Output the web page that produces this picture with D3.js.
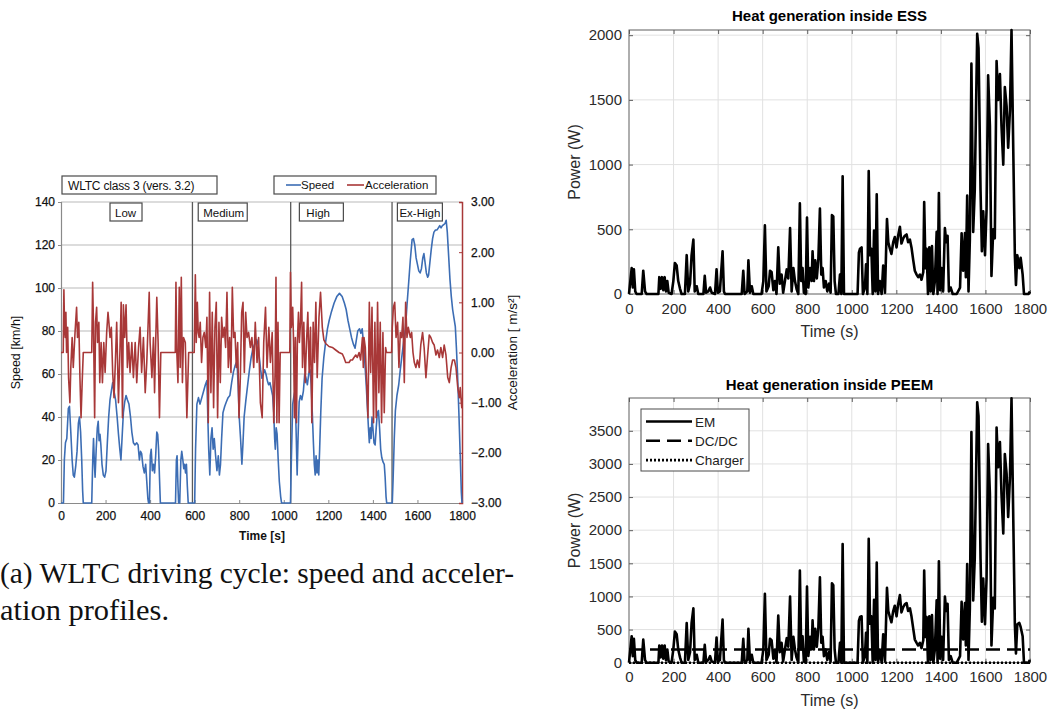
<!DOCTYPE html>
<html>
<head>
<meta charset="utf-8">
<script src="https://cdn.jsdelivr.net/npm/d3@7"></script>
<style>
  html, body { margin: 0; padding: 0; background: #fff; }
  svg { display: block; }
</style>
</head>
<body>
<svg id="fig" width="1048" height="711"></svg>
<script>
// ---------------------------------------------------------------
// WLTC class 3 driving cycle: [time s, speed km/h]
const speedPoints = [
  [0,0],[11,0],[15,20],[20,28],[26,30],[33,44],[38,45],[44,33],[50,20],[55,13],[60,12],[66,17],[72,24],[78,37],[83,40],[88,33],[93,20],[97,6],[100,0],
  [138,0],[143,22],[146,30],[150,18],[153,12],[158,25],[163,35],[167,38],[171,29],[175,32],[179,27],[184,18],[190,13],[196,12],[202,15],[208,28],[214,40],[220,48],[226,52],[232,56],[238,52],[245,48],[252,40],[258,32],[264,25],[269,20],[274,30],[280,42],[286,47],[292,50],[298,48],[305,46],[312,40],[318,33],[325,28],[332,27],[340,28],[346,27],[352,20],[357,24],[362,23],[368,17],[374,14],[380,18],[385,10],[390,2],[393,0],
  [397,0],[401,22],[405,25],[410,15],[415,18],[420,14],[425,22],[430,33],[434,32],[438,25],[442,12],[446,0],
  [514,0],[518,20],[521,22],[525,8],[528,0],[533,0],[538,20],[542,24],[547,20],[551,16],[555,18],[559,14],[563,18],[567,8],[571,0],
  [600,0],[604,25],[610,46],[617,49],[624,46],[632,49],[640,52],[648,55],[655,57],[659,40],[663,25],[668,13],[673,30],[678,35],[683,25],[688,30],[694,22],[700,15],[706,22],[711,13],[716,18],[721,30],[727,42],[735,45],[742,47],[750,49],[758,50],[766,56],[774,61],[782,64],[790,66],[795,55],[800,40],[806,30],[812,18],[817,28],[822,40],[830,48],[838,55],[846,62],[854,68],[862,72],[870,74],[878,76],[884,74],[890,68],[896,62],[902,58],[908,60],[914,62],[920,60],[926,57],[932,55],[938,56],[944,53],[950,50],[955,42],[959,30],[962,25],[966,35],[970,32],[975,20],[980,10],[986,3],[990,0],
  [1030,0],[1034,20],[1040,46],[1046,50],[1050,52],[1055,35],[1060,13],[1064,30],[1069,47],[1075,50],[1081,48],[1088,52],[1094,60],[1100,58],[1106,55],[1112,60],[1118,62],[1123,55],[1128,42],[1133,28],[1137,18],[1141,13],[1145,22],[1149,14],[1153,20],[1157,13],[1161,25],[1166,42],[1172,58],[1180,68],[1188,75],[1196,81],[1204,85],[1214,89],[1226,93],[1238,96],[1250,97.5],[1262,96],[1272,93],[1280,90],[1288,85],[1296,81],[1304,77],[1312,74],[1320,72],[1326,76],[1332,80],[1340,81],[1346,79],[1352,81],[1358,74],[1364,65],[1370,55],[1375,45],[1380,35],[1384,28],[1388,35],[1392,30],[1396,40],[1400,35],[1405,28],[1410,27],[1415,35],[1420,42],[1425,43],[1430,35],[1435,25],[1440,21],[1446,19],[1451,18],[1455,12],[1459,3],[1462,0],
  [1487,0],[1491,12],[1496,30],[1501,43],[1508,50],[1516,55],[1523,62],[1531,69],[1538,75],[1546,81],[1553,92],[1561,103],[1568,113],[1576,122.5],[1582,123],[1588,120],[1594,114],[1600,111],[1606,108],[1612,107],[1618,109],[1624,114],[1629,116],[1634,112],[1640,107],[1646,105],[1650,106],[1656,112],[1662,118],[1668,123],[1674,126],[1681,127],[1688,127],[1694,128],[1700,129],[1706,128],[1712,129],[1718,129.5],[1724,130],[1729,131.5],[1734,126],[1740,115],[1746,104],[1752,96],[1758,90],[1764,86],[1770,82],[1775,72],[1780,60],[1786,42],[1792,22],[1797,5],[1800,0]
];

// WLTC class 3 acceleration: [time s, acceleration m/s²]
const accelPoints = [
  [0,0],[10,0],[13,1.25],[16,0.5],[19,0.3],[22,0.8],[25,0],[30,0.5],[34,-0.5],[40,-1.0],[44,-0.3],[50,0.3],[55,-0.3],[63,0.4],[70,0.9],[74,0.3],[80,0.6],[85,-0.5],[90,-1.3],[95,-0.6],[100,0],
  [138,0],[142,1.4],[146,0.5],[151,-1.3],[155,0.6],[160,0.9],[164,0.2],[170,0.6],[174,-0.6],[180,0.2],[186,-0.6],[192,0.2],[198,-0.4],[205,0.4],[211,0.8],[215,0.6],[220,0.3],[226,0.5],[232,-0.4],[238,-0.9],[244,-0.2],[250,0.6],[258,-1.0],[265,0.1],[270,1.0],[276,-1.3],[280,0.95],[286,0.3],[292,0.95],[298,-0.3],[304,0.2],[310,-0.4],[318,0.2],[325,-0.5],[333,0.2],[340,-0.6],[348,0.1],[355,0.5],[362,-0.4],[370,0.3],[378,-0.8],[385,-0.2],[396,1.2],[400,0.2],[408,-0.5],[415,0.3],[420,-0.8],[425,0.2],[430,1.1],[436,0.2],[442,-1.3],[448,0],
  [513,0],[516,1.4],[520,0],[525,-0.6],[531,1.3],[535,-0.3],[540,1.5],[545,-0.6],[550,0.3],[558,0.2],[565,-1.3],[573,0],
  [598,0],[603,1.55],[607,0.2],[612,1.0],[616,0.4],[620,0.3],[625,0.6],[631,-0.2],[637,0.3],[643,0.4],[650,0.1],[655,0.7],[661,-1.4],[667,1.2],[673,-0.8],[679,0.8],[685,-1.1],[691,0.5],[697,1.0],[703,-1.3],[709,0.6],[715,-0.6],[721,0.7],[727,0.3],[733,0.5],[739,0.1],[745,1.2],[751,-0.3],[757,0.3],[763,-0.4],[769,1.3],[775,0.3],[781,0.4],[787,-0.3],[793,0.2],[799,-1.3],[805,-0.5],[811,0.8],[817,1.0],[823,-0.4],[829,0.8],[835,0.3],[842,0.4],[850,0.1],[857,0.3],[865,-0.3],[872,0.6],[880,-0.2],[887,0.3],[895,-1.0],[903,-1.3],[910,0.2],[918,0.9],[925,-0.3],[933,0.5],[940,-0.2],[948,0.4],[955,-1.4],[961,-0.4],[965,1.5],[969,-1.4],[974,0.6],[979,-1.4],[984,0],
  [1027,0],[1030,1.6],[1034,0.5],[1040,0.9],[1044,0.2],[1048,-1.3],[1052,0.3],[1057,-1.4],[1061,0.2],[1066,0.8],[1070,0.2],[1075,0.6],[1080,1.4],[1084,-0.3],[1090,0.6],[1096,-0.6],[1102,0.2],[1108,0.8],[1114,-0.4],[1120,0.5],[1126,-1.4],[1132,0.6],[1138,-0.2],[1144,1.0],[1150,-0.5],[1158,0.7],[1165,1.2],[1173,0.5],[1180,0.25],[1188,0.18],[1203,0.12],[1218,0.1],[1233,0.05],[1248,0.0],[1263,-0.03],[1270,-0.1],[1278,-0.2],[1293,-0.2],[1300,-0.15],[1308,-0.15],[1315,-0.1],[1323,-0.05],[1330,-0.1],[1338,0.0],[1345,-0.15],[1353,0.3],[1357,-0.3],[1360,0.3],[1366,0.1],[1371,-0.5],[1378,-1.3],[1384,1.0],[1390,-0.4],[1396,0.9],[1403,-1.4],[1409,0.6],[1415,-1.3],[1421,1.0],[1427,-0.8],[1433,0.6],[1439,-1.4],[1445,0.4],[1451,-1.2],[1457,0.1],[1461,0],
  [1484,0],[1487,0.5],[1492,0.9],[1498,1.0],[1504,0.3],[1511,0.6],[1517,-0.3],[1523,0.4],[1529,0.3],[1535,0.7],[1541,-0.6],[1547,1.0],[1553,0.3],[1559,0.5],[1568,0.3],[1574,0.4],[1580,0.0],[1586,-0.2],[1593,-0.3],[1600,-0.15],[1608,-0.3],[1615,0.15],[1623,0.4],[1630,0.1],[1638,-0.5],[1645,-0.1],[1653,0.35],[1660,0.3],[1668,0.2],[1675,0.15],[1683,-0.05],[1690,0.05],[1698,-0.1],[1705,0.1],[1713,-0.1],[1720,0.15],[1728,-0.05],[1736,-0.5],[1743,-0.6],[1751,-0.3],[1758,-0.15],[1766,-0.15],[1773,-0.3],[1781,-0.7],[1788,-0.9],[1792,-0.7],[1799,-1.1],[1800,-0.9]
];

const phaseNames  = ["Low", "Medium", "High", "Ex-High"];
const phaseBounds = [590, 1031, 1486];           // s, phase dividers
const speedTicks  = [0, 20, 40, 60, 80, 100, 120, 140];
const accelTicks  = [-3, -2, -1, 0, 1, 2, 3];
const cycleTimeTicks = [0, 200, 400, 600, 800, 1000, 1200, 1400, 1600, 1800];

// Heat generation inside the ESS: [time s, power W]
const essPoints = [
  [0,0],[12,200],[17,50],[22,190],[28,20],[34,0],[57,0],[64,180],[72,20],[79,0],[132,0],[136,130],[142,40],[148,130],[154,30],[160,130],[166,20],[172,100],[178,10],[191,0],[199,100],[206,240],[214,220],[221,100],[229,40],[236,0],[251,0],[259,300],[266,20],[274,80],[281,300],[289,420],[295,20],[304,60],[311,0],[334,0],[340,140],[346,10],[356,20],[364,50],[371,10],[386,0],[393,190],[399,10],[408,20],[420,330],[426,20],[431,0],
  [506,0],[513,180],[519,0],[531,20],[536,260],[543,10],[551,60],[558,0],[595,0],[603,100],[610,530],[617,20],[627,60],[633,180],[640,170],[648,30],[655,100],[662,0],[670,360],[677,80],[685,150],[692,10],[700,100],[708,190],[715,120],[723,510],[730,20],[738,200],[745,100],[752,40],[760,0],[767,700],[773,100],[779,200],[785,10],[793,0],[799,590],[805,50],[813,200],[820,100],[824,330],[830,100],[836,260],[843,120],[850,270],[857,660],[863,150],[869,200],[875,50],[883,100],[890,20],[898,80],[905,10],[911,610],[917,600],[923,100],[929,0],[940,0],[947,150],[953,0],[959,910],[965,0],
  [1026,0],[1032,320],[1037,350],[1044,360],[1050,0],[1059,50],[1064,230],[1070,0],[1076,950],[1082,300],[1088,350],[1094,0],[1100,490],[1106,20],[1112,770],[1118,0],[1126,100],[1134,0],[1141,220],[1149,10],[1158,580],[1164,400],[1171,350],[1178,310],[1186,400],[1193,440],[1201,360],[1208,450],[1216,520],[1223,390],[1231,430],[1238,450],[1246,460],[1253,400],[1261,420],[1268,360],[1276,260],[1283,180],[1291,150],[1298,130],[1306,150],[1313,110],[1321,170],[1325,710],[1331,200],[1336,350],[1342,0],[1348,360],[1354,20],[1360,370],[1366,0],[1373,100],[1381,480],[1385,0],[1391,780],[1397,30],[1403,200],[1410,20],[1418,510],[1424,400],[1430,450],[1436,20],[1444,50],[1453,0],
  [1471,0],[1486,50],[1493,470],[1500,180],[1508,470],[1512,130],[1518,760],[1524,20],[1530,420],[1537,1780],[1545,480],[1552,800],[1563,2010],[1569,1900],[1578,800],[1584,330],[1590,640],[1598,300],[1605,650],[1612,1690],[1620,1300],[1627,140],[1635,500],[1642,430],[1650,1800],[1657,1500],[1665,1700],[1672,1300],[1680,1000],[1687,1600],[1695,1450],[1702,1130],[1710,1420],[1717,2040],[1725,1100],[1732,300],[1737,70],[1743,300],[1752,200],[1758,280],[1767,150],[1773,0],[1792,0],[1800,20]
];

// Heat generation inside the PEEM, electric machine: [time s, power W]
const emPoints = [
  [0,0],[12,400],[17,100],[22,360],[28,40],[34,0],[57,0],[64,350],[72,40],[79,0],[132,0],[136,260],[142,80],[148,260],[154,60],[160,260],[166,40],[172,200],[178,20],[191,0],[199,200],[206,470],[214,430],[221,200],[229,80],[236,0],[251,0],[259,600],[266,40],[274,160],[281,600],[289,820],[295,40],[304,120],[311,0],[334,0],[340,270],[346,20],[356,40],[364,100],[371,20],[386,0],[393,380],[399,20],[408,40],[420,650],[426,40],[431,0],
  [506,0],[513,360],[519,0],[531,40],[536,510],[543,20],[551,120],[558,0],[595,0],[603,200],[610,1040],[617,40],[627,120],[633,360],[640,340],[648,60],[655,200],[662,0],[670,710],[677,160],[685,300],[692,20],[700,200],[708,370],[715,240],[723,1000],[730,40],[738,390],[745,200],[752,80],[760,0],[767,1390],[773,200],[779,400],[785,20],[793,0],[799,1150],[805,100],[813,390],[820,200],[824,640],[830,200],[836,510],[843,240],[850,530],[857,1290],[863,300],[869,390],[875,100],[883,200],[890,40],[898,160],[905,20],[911,1200],[917,1170],[923,200],[929,0],[940,0],[947,300],[953,0],[959,1790],[965,0],
  [1026,0],[1032,630],[1037,690],[1044,700],[1050,0],[1059,100],[1064,450],[1070,0],[1076,1870],[1082,590],[1088,700],[1094,0],[1100,950],[1106,40],[1112,1510],[1118,0],[1126,200],[1134,0],[1141,430],[1149,20],[1158,1130],[1164,780],[1171,690],[1178,610],[1186,780],[1193,860],[1201,700],[1208,880],[1216,1020],[1223,760],[1231,840],[1238,880],[1246,900],[1253,780],[1261,820],[1268,700],[1276,510],[1283,350],[1291,300],[1298,260],[1306,300],[1313,220],[1321,340],[1325,1390],[1331,390],[1336,690],[1342,0],[1348,700],[1354,40],[1360,720],[1366,0],[1373,200],[1381,940],[1385,0],[1391,1530],[1397,60],[1403,390],[1410,40],[1418,1000],[1424,780],[1430,890],[1436,40],[1444,100],[1453,0],
  [1471,0],[1486,100],[1493,920],[1500,350],[1508,900],[1512,260],[1518,1490],[1524,40],[1530,820],[1537,3480],[1545,940],[1552,1570],[1563,3930],[1569,3720],[1578,1570],[1584,620],[1590,1270],[1598,580],[1605,1270],[1612,3300],[1620,2550],[1627,260],[1635,980],[1642,820],[1650,3550],[1657,2950],[1665,3330],[1672,2550],[1680,1950],[1687,3150],[1695,2850],[1702,2200],[1710,2800],[1717,3990],[1725,2150],[1732,580],[1737,140],[1743,580],[1752,600],[1758,540],[1767,400],[1773,0],[1792,0],[1800,40]
];

// DC/DC converter and on-board charger losses: [time s, power W]
const dcdcPoints    = [[0,200],[1800,200]];
const chargerPoints = [[0,0],[1800,0]];

const timeTicks = [0, 200, 400, 600, 800, 1000, 1200, 1400, 1600, 1800];
const essTicks  = [0, 500, 1000, 1500, 2000];
const peemTicks = [0, 500, 1000, 1500, 2000, 2500, 3000, 3500];
const peemLegend = ["EM", "DC/DC", "Charger"];

// ---------------------------------------------------------------
const svg = d3.select("#fig");
const SANS = "'Liberation Sans', Arial, Helvetica, sans-serif";
const SERIF = "'Liberation Serif', 'Times New Roman', serif";

// ================= Left panel: WLTC speed / acceleration =================
(function drawCycle() {
  const BLUE = "#3c6db4", RED = "#a83838";
  const x  = d3.scaleLinear().domain([0, 1800]).range([61, 462]);
  const yV = d3.scaleLinear().domain([0, 140]).range([503, 202]);
  const yA = d3.scaleLinear().domain([-3, 3]).range([503, 202]);
  const g = svg.append("g").attr("font-family", SANS);

  // horizontal gridlines on the speed ticks
  g.append("g").selectAll("line")
    .data(speedTicks.filter(d => d > 0)).join("line")
    .attr("x1", x(0)).attr("x2", x(1800))
    .attr("y1", d => yV(d)).attr("y2", d => yV(d))
    .attr("stroke", "#b9b9b9").attr("stroke-width", 1.2);

  // phase dividers
  g.append("g").selectAll("line")
    .data(phaseBounds).join("line")
    .attr("x1", d => x(d)).attr("x2", d => x(d))
    .attr("y1", yV(140)).attr("y2", yV(0))
    .attr("stroke", "#5a5a5a").attr("stroke-width", 1.3);

  const labelStyle = sel => sel.attr("font-size", 12).attr("fill", "#111")
    .attr("font-family", SANS).attr("stroke", "#111").attr("stroke-width", 0.25);

  // left speed axis
  const axL = g.append("g").attr("transform", `translate(${x(0)},0)`)
    .call(d3.axisLeft(yV).tickValues(speedTicks).tickSize(3).tickPadding(3).tickFormat(d3.format("d")));
  axL.select(".domain").attr("stroke", "#8a8a8a").attr("stroke-width", 1.2);
  axL.selectAll(".tick line").attr("stroke", "#8a8a8a");
  axL.selectAll("text").call(labelStyle);

  // bottom time axis
  const axB = g.append("g").attr("transform", `translate(0,${yV(0)})`)
    .call(d3.axisBottom(x).tickValues(cycleTimeTicks).tickSize(-3).tickPadding(8).tickFormat(d3.format("d")));
  axB.select(".domain").attr("stroke", "#8a8a8a").attr("stroke-width", 1.2);
  axB.selectAll(".tick line").attr("stroke", "#8a8a8a");
  axB.selectAll("text").call(labelStyle);

  // right acceleration axis
  const axR = g.append("g").attr("transform", `translate(${x(1800)},0)`)
    .call(d3.axisRight(yA).tickValues(accelTicks).tickSize(-3).tickPadding(9).tickFormat(d3.format(".2f")));
  axR.select(".domain").attr("stroke", RED).attr("stroke-width", 1.5);
  axR.selectAll(".tick line").attr("stroke", RED);
  axR.selectAll("text").call(labelStyle);

  // curves
  const lineV = d3.line().x(d => x(d[0])).y(d => yV(d[1]));
  const lineA = d3.line().x(d => x(d[0])).y(d => yA(d[1]));
  g.append("path").datum(speedPoints).attr("d", lineV)
    .attr("fill", "none").attr("stroke", BLUE).attr("stroke-width", 1.6)
    .attr("stroke-linejoin", "round");
  g.append("path").datum(accelPoints).attr("d", lineA)
    .attr("fill", "none").attr("stroke", RED).attr("stroke-width", 1.6)
    .attr("stroke-linejoin", "round");

  // phase name boxes
  const phaseBoxLeft = [220, 616, 1070, 1510];   // s
  const phaseBoxW    = [32, 49, 44, 45];
  const phasePad     = [5, 5, 7, 2];
  phaseNames.forEach((name, i) => {
    const bx = x(phaseBoxLeft[i]);
    g.append("rect").attr("x", bx).attr("y", 203).attr("width", phaseBoxW[i]).attr("height", 18)
      .attr("fill", "#fff").attr("stroke", "#4a4a4a").attr("stroke-width", 1.2);
    g.append("text").attr("x", bx + phasePad[i]).attr("y", 216.5)
      .attr("font-size", 11.5).attr("fill", "#111").text(name);
  });

  // cycle name box
  g.append("rect").attr("x", 62).attr("y", 176).attr("width", 155).attr("height", 18)
    .attr("fill", "#fff").attr("stroke", "#4a4a4a").attr("stroke-width", 1.2);
  g.append("text").attr("x", 68).attr("y", 189.5).attr("font-size", 12).attr("fill", "#111")
    .attr("letter-spacing", -0.2).text("WLTC class 3 (vers. 3.2)");

  // legend
  g.append("rect").attr("x", 274).attr("y", 176).attr("width", 162).attr("height", 18)
    .attr("fill", "#fff").attr("stroke", "#4a4a4a").attr("stroke-width", 1.2);
  g.append("line").attr("x1", 286).attr("x2", 301).attr("y1", 185).attr("y2", 185)
    .attr("stroke", BLUE).attr("stroke-width", 1.6);
  g.append("text").attr("x", 301).attr("y", 189).attr("font-size", 11.5).attr("fill", "#111").text("Speed");
  g.append("line").attr("x1", 347).attr("x2", 364).attr("y1", 185).attr("y2", 185)
    .attr("stroke", RED).attr("stroke-width", 1.6);
  g.append("text").attr("x", 365).attr("y", 189).attr("font-size", 11.5).attr("fill", "#111").text("Acceleration");

  // axis titles
  g.append("text").attr("transform", `translate(20,${(yV(0) + yV(140)) / 2}) rotate(-90)`)
    .attr("text-anchor", "middle").attr("font-size", 12.5).attr("fill", "#111").text("Speed [km/h]");
  g.append("text").attr("transform", `translate(517,${(yV(0) + yV(140)) / 2}) rotate(-90)`)
    .attr("text-anchor", "middle").attr("font-size", 13.5).attr("fill", "#111").text("Acceleration [ m/s²]");
  g.append("text").attr("x", 262).attr("y", 540).attr("text-anchor", "middle")
    .attr("font-size", 12).attr("font-weight", "bold").attr("fill", "#111").text("Time [s]");
})();

// caption
const cap = svg.append("g").attr("font-family", SERIF).attr("font-size", 28.5).attr("fill", "#111");
cap.append("text").attr("x", 0).attr("y", 583).attr("textLength", 514).attr("lengthAdjust", "spacingAndGlyphs")
  .text("(a) WLTC driving cycle: speed and acceler-");
cap.append("text").attr("x", 0).attr("y", 620).attr("textLength", 169).attr("lengthAdjust", "spacingAndGlyphs")
  .text("ation profiles.");

// ================= Right panels: MATLAB-style heat plots =================
function matlabAxes(cfg) {
  const x = d3.scaleLinear().domain([0, 1800]).range([629, 1030]);
  const y = d3.scaleLinear().domain([0, cfg.yMax]).range([cfg.bottom, cfg.top]);
  const g = svg.append("g").attr("font-family", SANS);
  const AX = "#5e5e5e";

  // grid
  g.append("g").selectAll("line").data(timeTicks.slice(1, -1)).join("line")
    .attr("x1", d => x(d)).attr("x2", d => x(d)).attr("y1", cfg.top).attr("y2", cfg.bottom)
    .attr("stroke", "#e1e1e1").attr("stroke-width", 1);
  g.append("g").selectAll("line").data(cfg.yTicks.filter(d => d > 0 && y(d) > cfg.top + 1)).join("line")
    .attr("x1", x(0)).attr("x2", x(1800)).attr("y1", d => y(d)).attr("y2", d => y(d))
    .attr("stroke", "#e1e1e1").attr("stroke-width", 1);

  // axes with inward ticks
  const axB = g.append("g").attr("transform", `translate(0,${cfg.bottom})`)
    .call(d3.axisBottom(x).tickValues(timeTicks).tickSize(-4).tickPadding(9).tickFormat(d3.format("d")));
  const axT = g.append("g").attr("transform", `translate(0,${cfg.top})`)
    .call(d3.axisTop(x).tickValues(timeTicks).tickSize(-4).tickFormat(""));
  const axL = g.append("g").attr("transform", `translate(${x(0)},0)`)
    .call(d3.axisLeft(y).tickValues(cfg.yTicks).tickSize(-4).tickPadding(7).tickFormat(d3.format("d")));
  const axR = g.append("g").attr("transform", `translate(${x(1800)},0)`)
    .call(d3.axisRight(y).tickValues(cfg.yTicks).tickSize(-4).tickFormat(""));
  [axB, axT, axL, axR].forEach(a => {
    a.select(".domain").remove();
    a.selectAll(".tick line").attr("stroke", AX);
    a.selectAll("text").attr("font-size", 15).attr("fill", "#2b2b2b").attr("font-family", SANS);
  });
  g.append("rect").attr("x", x(0)).attr("y", cfg.top).attr("width", x(1800) - x(0))
    .attr("height", cfg.bottom - cfg.top).attr("fill", "none").attr("stroke", AX).attr("stroke-width", 1);

  // series
  const line = d3.line().x(d => x(d[0])).y(d => y(d[1]));
  cfg.series.forEach(s => {
    g.append("path").datum(s.data).attr("d", line).attr("fill", "none")
      .attr("stroke", "#000").attr("stroke-width", s.width)
      .attr("stroke-dasharray", s.dash || null)
      .attr("stroke-linejoin", "round");
  });

  // labels
  g.append("text").attr("x", (x(0) + x(1800)) / 2).attr("y", cfg.titleY).attr("text-anchor", "middle")
    .attr("font-size", 15).attr("font-weight", "bold").attr("fill", "#000").text(cfg.title);
  g.append("text").attr("x", (x(0) + x(1800)) / 2).attr("y", cfg.xLabelY).attr("text-anchor", "middle")
    .attr("font-size", 16).attr("fill", "#2b2b2b").text("Time (s)");
  g.append("text").attr("transform", `translate(580,${(cfg.top + cfg.bottom) / 2}) rotate(-90)`)
    .attr("text-anchor", "middle").attr("font-size", 16).attr("fill", "#2b2b2b").text("Power (W)");
  return { g, x, y };
}

matlabAxes({
  title: "Heat generation inside ESS", top: 30, bottom: 294, yMax: 2040, yTicks: essTicks,
  titleY: 21, xLabelY: 337,
  series: [{ data: essPoints, width: 2.6 }]
});

const peem = matlabAxes({
  title: "Heat generation inside PEEM", top: 398, bottom: 662.7, yMax: 3995, yTicks: peemTicks,
  titleY: 390, xLabelY: 706,
  series: [
    { data: emPoints, width: 2.6 },
    { data: dcdcPoints, width: 2.6, dash: "14,7" },
    { data: chargerPoints, width: 2.6, dash: "2,2" }
  ]
});

// PEEM legend
(function () {
  const lg = peem.g.append("g").attr("font-family", SANS);
  lg.append("rect").attr("x", 641).attr("y", 409).attr("width", 108).attr("height", 62)
    .attr("fill", "#fff").attr("stroke", "#4a4a4a").attr("stroke-width", 1);
  const dashes = [null, "14,7", "2,2"];
  peemLegend.forEach((name, i) => {
    const yy = 421.5 + i * 19.3;
    lg.append("line").attr("x1", 646).attr("x2", 692).attr("y1", yy).attr("y2", yy)
      .attr("stroke", "#000").attr("stroke-width", 2.6).attr("stroke-dasharray", dashes[i]);
    lg.append("text").attr("x", 695).attr("y", yy + 5).attr("font-size", 13.5).attr("fill", "#222").text(name);
  });
})();
</script>
</body>
</html>
